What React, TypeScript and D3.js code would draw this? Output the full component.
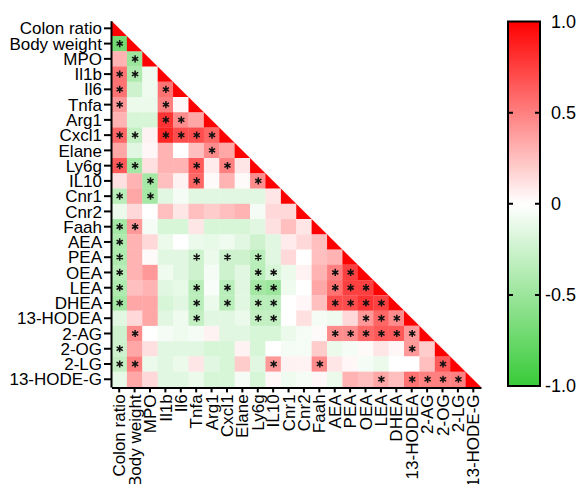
import React, { useEffect, useRef } from 'react';
import * as d3 from 'd3';

// Variable names (rows top -> bottom, columns left -> right)
const labels = [
  'Colon ratio', 'Body weight', 'MPO', 'Il1b', 'Il6', 'Tnfa', 'Arg1', 'Cxcl1',
  'Elane', 'Ly6g', 'IL10', 'Cnr1', 'Cnr2', 'Faah', 'AEA', 'PEA', 'OEA', 'LEA',
  'DHEA', '13-HODEA', '2-AG', '2-OG', '2-LG', '13-HODE-G',
];

// Lower triangle of the correlation matrix: row r holds columns 0..r-1
const corr: number[][] = [
  [],
  [-0.7],
  [0.3, -0.5],
  [0.55, -0.4, -0.08],
  [0.55, -0.25, -0.08, 0.55],
  [0.4, -0.1, -0.1, 0.5, 0.03],
  [0.3, -0.2, -0.2, 0.8, 0.45, 0.35],
  [0.6, -0.3, 0.05, 0.85, 0.7, 0.7, 0.6],
  [0.35, -0.15, 0.03, 0.3, 0.0, 0.25, 0.45, 0.35],
  [0.65, -0.45, 0.12, 0.3, 0.3, 0.65, 0.08, 0.5, 0.1],
  [0.12, 0.3, -0.45, 0.25, 0.05, 0.6, 0.02, 0.3, 0.02, 0.45],
  [-0.35, 0.35, -0.45, -0.15, -0.05, -0.15, -0.15, -0.15, -0.15, -0.15, 0.1],
  [-0.1, 0.15, 0.0, 0.25, 0.1, 0.25, 0.2, 0.25, 0.3, -0.05, 0.15, 0.15],
  [-0.45, 0.4, -0.05, -0.2, -0.2, 0.1, -0.2, -0.2, -0.2, -0.15, 0.12, 0.25, 0.1],
  [-0.4, 0.3, 0.15, -0.1, 0.0, -0.1, -0.12, -0.08, -0.15, -0.25, -0.15, 0.08, 0.15, 0.25],
  [-0.4, 0.3, 0.02, -0.15, -0.15, -0.25, -0.1, -0.25, -0.25, -0.35, -0.15, 0.15, 0.0, 0.25, 0.3],
  [-0.35, 0.3, 0.4, -0.08, -0.15, -0.25, -0.05, -0.25, -0.15, -0.35, -0.2, -0.1, 0.05, 0.3, 0.5, 0.75],
  [-0.4, 0.25, 0.3, -0.15, -0.12, -0.35, -0.03, -0.35, -0.15, -0.45, -0.5, -0.08, 0.0, 0.35, 0.55, 0.75, 0.75],
  [-0.45, 0.35, 0.35, -0.2, -0.15, -0.35, -0.1, -0.35, -0.15, -0.35, -0.35, 0.0, 0.03, 0.25, 0.7, 0.7, 0.8, 0.75],
  [-0.15, 0.15, 0.35, -0.15, -0.08, -0.3, -0.15, -0.15, -0.1, -0.3, -0.3, 0.0, 0.12, -0.05, -0.08, 0.15, 0.4, 0.6, 0.45],
  [-0.25, 0.45, 0.0, -0.05, -0.08, -0.05, 0.05, -0.15, -0.15, -0.2, -0.2, -0.1, -0.05, 0.02, 0.45, 0.45, 0.6, 0.65, 0.65, 0.4],
  [-0.25, 0.35, 0.12, -0.15, -0.15, -0.15, -0.2, -0.2, 0.05, -0.2, 0.0, -0.05, -0.05, 0.2, -0.1, -0.05, 0.02, 0.1, 0.03, 0.4, 0.2],
  [-0.3, 0.5, -0.1, -0.15, -0.1, 0.1, -0.15, -0.2, 0.2, -0.15, 0.4, 0.05, 0.05, 0.45, 0.1, 0.03, -0.05, -0.1, 0.0, 0.0, 0.25, 0.65],
  [-0.12, 0.35, 0.15, -0.15, -0.15, -0.1, -0.2, -0.2, -0.05, -0.2, 0.03, -0.08, -0.05, 0.03, -0.1, 0.3, 0.25, 0.35, 0.25, 0.55, 0.5, 0.5, 0.5],
];

// Column indices marked significant (*) in each row
const sig: number[][] = [
  [], [0], [1], [0, 1], [0, 3], [0, 3], [3, 4], [0, 1, 3, 4, 5, 6],
  [6], [0, 1, 5, 7], [2, 5, 9], [0, 2], [], [0, 1], [0], [0, 5, 7, 9],
  [0, 9, 10, 14, 15], [0, 5, 7, 9, 10, 14, 15, 16], [0, 5, 7, 9, 10, 14, 15, 16, 17],
  [5, 9, 10, 16, 17, 18], [1, 14, 15, 16, 17, 18, 19], [0, 19], [0, 1, 10, 13, 21],
  [17, 19, 20, 21, 22],
];

const legendTicks = [1, 0.5, 0, -0.5, -1];

const App = () => {
  const svgRef = useRef<SVGSVGElement>(null);

  useEffect(() => {
    if (!svgRef.current) return;
    const svg = d3.select(svgRef.current);
    svg.selectAll('*').remove();

    const font = 'Arial, "Liberation Sans", sans-serif';
    const x0 = 111.5, x1 = 481, y0 = 20.7, y1 = 386.9;

    const x = d3.scaleBand().domain(labels).range([x0, x1]);
    const y = d3.scaleBand().domain(labels).range([y0, y1]);
    const color = d3.scaleLinear<string>()
      .domain([-1, 0, 1])
      .range(['#38cb38', '#ffffff', '#ff0000']);

    const cells = corr.flatMap((row, r) =>
      row.map((v, c) => ({ row: labels[r], col: labels[c], v })));

    // Off-diagonal cells
    svg.append('g')
      .selectAll('rect')
      .data(cells)
      .join('rect')
      .attr('x', d => x(d.col)!)
      .attr('y', d => y(d.row)!)
      .attr('width', x.bandwidth() + 0.3)
      .attr('height', y.bandwidth() + 0.3)
      .attr('fill', d => color(d.v));

    // Diagonal drawn as triangles
    svg.append('g')
      .selectAll('path')
      .data(labels)
      .join('path')
      .attr('d', l => {
        const cx = x(l)!, cy = y(l)!;
        return `M${cx},${cy}L${cx},${cy + y.bandwidth()}L${cx + x.bandwidth()},${cy + y.bandwidth()}Z`;
      })
      .attr('fill', color(1));

    // Significance asterisks
    const star = d3.symbol().type(d3.symbolAsterisk).size(36);
    const stars = sig.flatMap((cols, r) => cols.map(c => ({ row: labels[r], col: labels[c] })));
    svg.append('g')
      .selectAll('path')
      .data(stars)
      .join('path')
      .attr('transform', d => `translate(${x(d.col)! + x.bandwidth() / 2 + 0.5},${y(d.row)! + y.bandwidth() / 2})`)
      .attr('d', star()!)
      .attr('fill', 'none')
      .attr('stroke', '#111')
      .attr('stroke-width', 1.5);

    // Left axis
    const gy = svg.append('g')
      .attr('transform', `translate(${x0 - 0.5},0)`)
      .call(d3.axisLeft(y).tickSize(7).tickSizeOuter(0).tickPadding(2))
      .attr('font-size', 17)
      .attr('font-family', font);
    gy.select('.domain').attr('stroke-width', 2).attr('stroke', '#000');
    gy.selectAll('.tick line').attr('stroke-width', 2).attr('stroke', '#000');
    gy.selectAll('.tick text').attr('fill', '#000').attr('dy', '0.36em');

    // Bottom axis
    const gx = svg.append('g')
      .attr('transform', `translate(0,${y1 + 0.5})`)
      .call(d3.axisBottom(x).tickSize(5).tickSizeOuter(0))
      .attr('font-size', 17)
      .attr('font-family', font);
    gx.select('.domain').attr('stroke-width', 2).attr('stroke', '#000');
    gx.selectAll('.tick line').attr('stroke-width', 2).attr('stroke', '#000');
    gx.selectAll('.tick text')
      .attr('fill', '#000')
      .attr('transform', 'rotate(-90)')
      .attr('x', -7)
      .attr('y', 0)
      .attr('dy', '0.36em')
      .attr('text-anchor', 'end');

    // Colour bar
    const cy = d3.scaleLinear().domain([-1, 1]).range([386, 21.5]);
    const grad = svg.append('defs').append('linearGradient')
      .attr('id', 'cbar')
      .attr('x1', 0).attr('y1', 0).attr('x2', 0).attr('y2', 1);
    [1, 0, -1].forEach(v => {
      grad.append('stop')
        .attr('offset', `${((1 - v) / 2) * 100}%`)
        .attr('stop-color', color(v));
    });
    const bx = 508, bw = 32;
    svg.append('rect')
      .attr('x', bx)
      .attr('y', cy(1))
      .attr('width', bw)
      .attr('height', cy(-1) - cy(1))
      .attr('fill', 'url(#cbar)')
      .attr('stroke', '#000')
      .attr('stroke-width', 2);

    const inner = legendTicks.filter(v => v !== 1 && v !== -1);
    svg.append('g')
      .selectAll('path')
      .data(inner)
      .join('path')
      .attr('d', v => `M${bx},${cy(v)}h5M${bx + bw},${cy(v)}h-5`)
      .attr('stroke', '#000')
      .attr('stroke-width', 2);

    svg.append('g')
      .selectAll('text')
      .data(legendTicks)
      .join('text')
      .attr('x', 551)
      .attr('dx', v => (v < 0 ? -6 : 0))
      .attr('y', v => cy(v))
      .attr('dy', '0.36em')
      .attr('font-size', 18)
      .attr('font-family', font)
      .text(v => (v === 0 ? '0' : v.toFixed(1)));
  }, []);

  return (
    <svg
      ref={svgRef}
      width={587}
      height={484}
      style={{ position: 'absolute', left: 0, top: 0, background: '#fff' }}
    />
  );
};

export default App;
